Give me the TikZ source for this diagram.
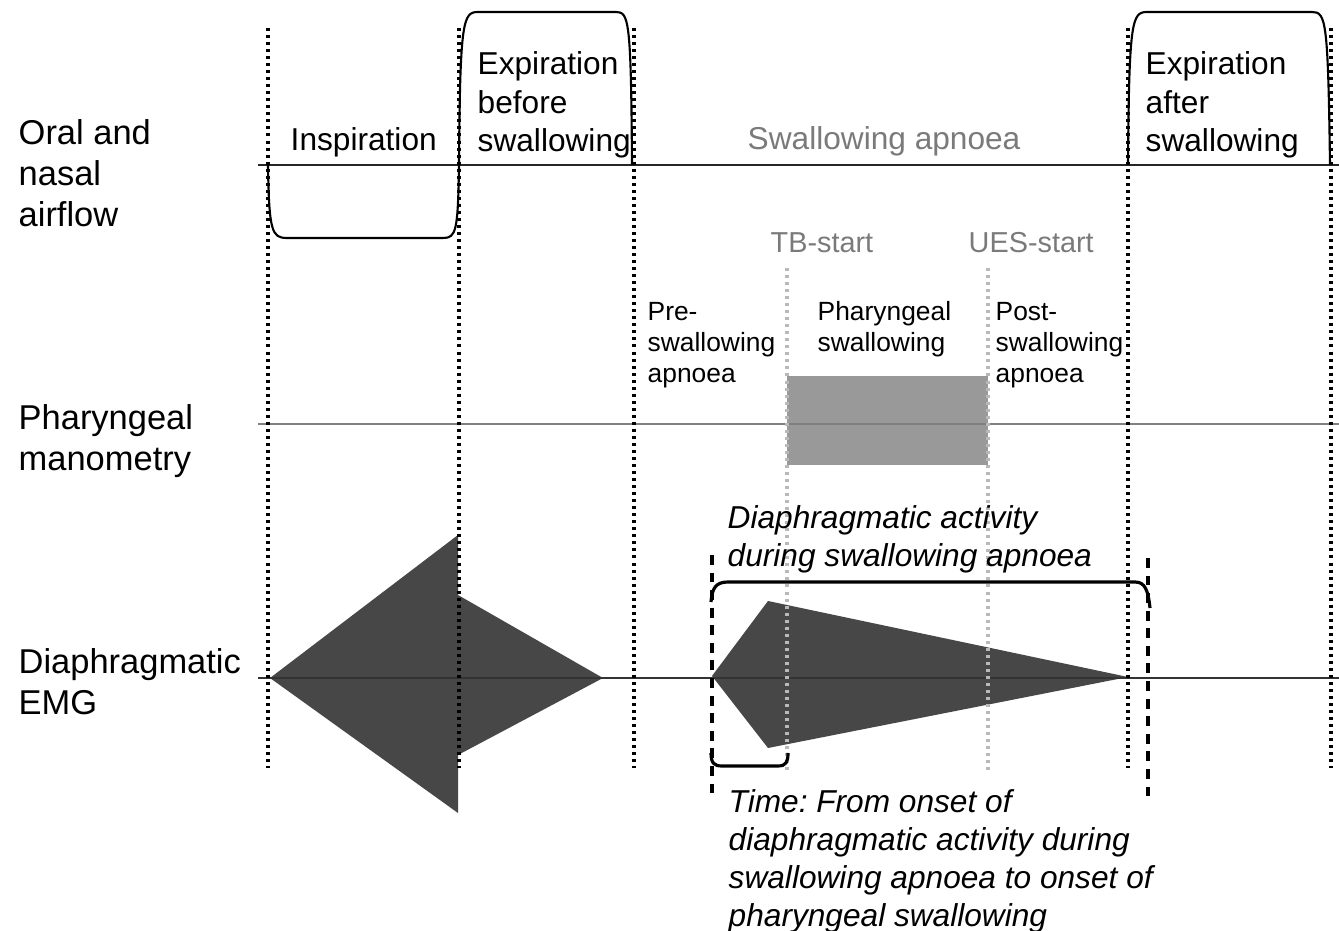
\documentclass[tikz,border=0pt]{standalone}
\usepackage{fontspec}
\setmainfont{Liberation Sans}
\usepackage{tikz}
\usetikzlibrary{positioning}
\definecolor{textgrey}{gray}{0.48}
\definecolor{emgdark}{gray}{0.28}
\definecolor{manogrey}{gray}{0.6}
\frenchspacing

\begin{document}
\begin{tikzpicture}[x=0.01cm,y=-0.01cm,
    phase/.style={line width=0.9pt,dash pattern=on 0.85pt off 1.15pt},
    event/.style={line width=0.9pt,dash pattern=on 0.85pt off 1.15pt,gray!55},
    marker/.style={line width=0.9pt,dash pattern=on 2.8pt off 2.2pt},
    trace/.style={line width=0.8pt,black!85},
    brace/.style={line width=0.9pt,line join=round},
    rowlabel/.style={anchor=base west,inner sep=0pt,align=left,font=\fontsize{9.8}{11.7}\selectfont},
    phaselabel/.style={anchor=base west,inner sep=0pt,align=left,font=\fontsize{9}{10.95}\selectfont},
    eventlabel/.style={anchor=base west,inner sep=0pt,text=textgrey,font=\fontsize{8.2}{10}\selectfont},
    sublabel/.style={anchor=base west,inner sep=0pt,align=left,font=\fontsize{7.5}{8.95}\selectfont},
    note/.style={anchor=base west,inner sep=0pt,align=left,font=\fontsize{9}{10.9}\selectfont\itshape}]
  \useasboundingbox (0,0) rectangle (1339,931);

  % fills
  \fill[manogrey] (787,376) rectangle (988,465);
  \fill[emgdark] (270,678) -- (458,535) -- (458,595) -- (603,678) -- (458,755) -- (458,813) -- cycle;
  \fill[emgdark] (712,676) -- (768,601) -- (1128,677) -- (768,748) -- cycle;

  % traces
  \draw[trace] (258,165) -- (1339,165);
  \draw[line width=0.6pt] (268,165) .. controls (269,232) and (272,238) .. (287,238) -- (443,238)
    .. controls (456,238) and (458,232) .. (459,165)
    .. controls (460,20) and (463,12) .. (478,12) -- (616,12)
    .. controls (629,12) and (631,20) .. (632,165);
  \draw[line width=0.6pt] (1128,165) .. controls (1129,20) and (1132,12) .. (1147,12) -- (1312,12)
    .. controls (1326,12) and (1328,20) .. (1330,165);
  \draw[line width=0.6pt,gray] (258,424) -- (1339,424);
  \draw[line width=0.6pt,black!80] (258,678) -- (1339,678);

  % phase boundaries
  \foreach \x in {268,459,634,1128,1331}
  {
    \draw[phase] (\x,28) -- (\x,768);
  }
  \foreach \x in {787,988}
  {
    \draw[event] (\x,268) -- (\x,770);
  }
  \draw[marker] (712,555) -- (712,795);
  \draw[marker] (1148,558) -- (1148,800);

  % braces
  \draw[brace] (711,602) .. controls (712,588) and (716,582) .. (728,582) -- (1135,582)
    .. controls (1145,582) and (1148,590) .. (1150,608);
  \draw[brace] (711,753) .. controls (711,763) and (714,766) .. (722,766) -- (778,766)
    .. controls (786,766) and (788,762) .. (788,753);

  % labels (base = last line)
  \node[rowlabel] (airflow) at (18,227) {Oral and\\nasal\\airflow};
  \node[rowlabel] (manometry) at (18,471) {Pharyngeal\\manometry};
  \node[rowlabel] (emg) at (18,715) {Diaphragmatic\\EMG};
  \node[phaselabel] (insp) at (290,151) {Inspiration};
  \node[phaselabel] (expbefore) at (477,152) {Expiration\\before\\swallowing};
  \node[phaselabel] (expafter) at (1145,152) {Expiration\\after\\swallowing};
  \node[phaselabel,text=textgrey] (apnoea) at (747,150) {Swallowing apnoea};
  \node[eventlabel] (tbstart) at (770,253) {TB-start};
  \node[eventlabel] (uesstart) at (968,253) {UES-start};
  \node[sublabel] (pre) at (647,383) {Pre-\\swallowing\\apnoea};
  \node[sublabel] (pharyngeal) at (817,352) {Pharyngeal\\swallowing};
  \node[sublabel] (post) at (995,383) {Post-\\swallowing\\apnoea};
  \node[note] (activity) at (727,567) {Diaphragmatic activity\\during swallowing apnoea};
  \node[note] (onset) at (728,927) {Time: From onset of\\diaphragmatic activity during\\swallowing apnoea to onset of\\pharyngeal swallowing};
\end{tikzpicture}
\end{document}
